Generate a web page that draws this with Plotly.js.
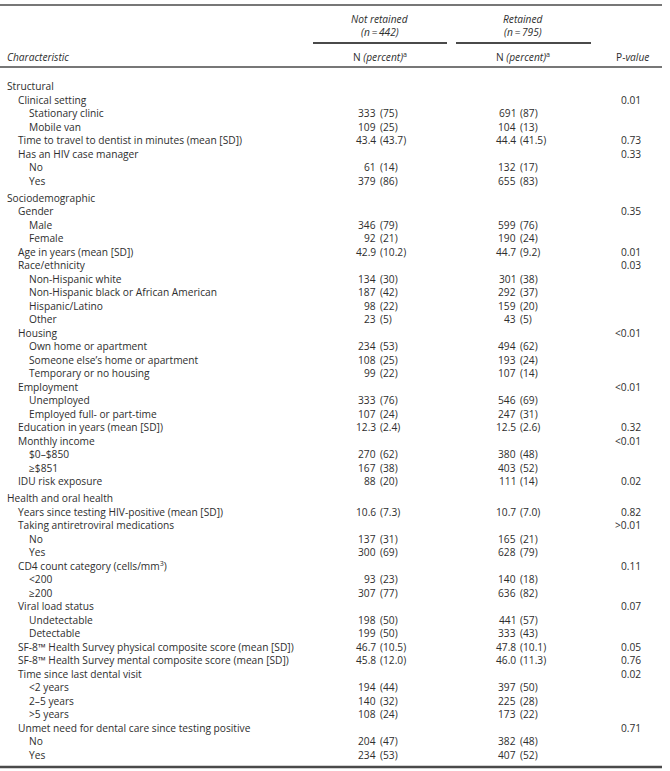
<!DOCTYPE html>
<html>
<head>
<meta charset="utf-8">
<script src="https://cdn.plot.ly/plotly-3.0.1.min.js"></script>
<style>html,body{margin:0;padding:0;background:#fff;}#chart{width:670px;height:771px;}</style>
</head>
<body>
<div id="chart"></div>
<script>
// ---- Table data ----
const labels = [
  "Structural","Clinical setting","Stationary clinic","Mobile van",
  "Time to travel to dentist in minutes (mean [SD])","Has an HIV case manager","No","Yes",
  "Sociodemographic","Gender","Male","Female","Age in years (mean [SD])","Race/ethnicity",
  "Non-Hispanic white","Non-Hispanic black or African American","Hispanic/Latino","Other",
  "Housing","Own home or apartment","Someone else’s home or apartment","Temporary or no housing",
  "Employment","Unemployed","Employed full- or part-time","Education in years (mean [SD])",
  "Monthly income","$0–$850","≥$851","IDU risk exposure",
  "Health and oral health","Years since testing HIV-positive (mean [SD])","Taking antiretroviral medications",
  "No","Yes","CD4 count category (cells/mm<sup>3</sup>)","&lt;200","≥200","Viral load status",
  "Undetectable","Detectable","SF-8™ Health Survey physical composite score (mean [SD])",
  "SF-8™ Health Survey mental composite score (mean [SD])","Time since last dental visit",
  "&lt;2 years","2–5 years","&gt;5 years","Unmet need for dental care since testing positive","No","Yes"
];
const levels = [0,1,2,2,1,1,2,2, 0,1,2,2,1,1,2,2,2,2,1,2,2,2,1,2,2,1,1,2,2,1, 0,1,1,2,2,1,2,2,1,2,2,1,1,1,2,2,2,1,2,2];
const notRetainedN = ["","","333","109","43.4","","61","379", "","","346","92","42.9","","134","187","98","23","","234","108","99","","333","107","12.3","","270","167","88", "","10.6","","137","300","","93","307","","198","199","46.7","45.8","","194","140","108","","204","234"];
const notRetainedPct = ["","","(75)","(25)","(43.7)","","(14)","(86)", "","","(79)","(21)","(10.2)","","(30)","(42)","(22)","(5)","","(53)","(25)","(22)","","(76)","(24)","(2.4)","","(62)","(38)","(20)", "","(7.3)","","(31)","(69)","","(23)","(77)","","(50)","(50)","(10.5)","(12.0)","","(44)","(32)","(24)","","(47)","(53)"];
const retainedN = ["","","691","104","44.4","","132","655", "","","599","190","44.7","","301","292","159","43","","494","193","107","","546","247","12.5","","380","403","111", "","10.7","","165","628","","140","636","","441","333","47.8","46.0","","397","225","173","","382","407"];
const retainedPct = ["","","(87)","(13)","(41.5)","","(17)","(83)", "","","(76)","(24)","(9.2)","","(38)","(37)","(20)","(5)","","(62)","(24)","(14)","","(69)","(31)","(2.6)","","(48)","(52)","(14)", "","(7.0)","","(21)","(79)","","(18)","(82)","","(57)","(43)","(10.1)","(11.3)","","(50)","(28)","(22)","","(48)","(52)"];
const pValues = ["","0.01","","","0.73","0.33","","", "","0.35","","","0.01","0.03","","","","","&lt;0.01","","","","&lt;0.01","","","0.32","&lt;0.01","","","0.02", "","0.82","&gt;0.01","","","0.11","","","0.07","","","0.05","0.76","0.02","","","","0.71","",""];
const groupHeaders = ["<i>Not retained</i>","<i>Retained</i>"];
const groupN = ["<i>(n\u2009=\u2009442)</i>","<i>(n\u2009=\u2009795)</i>"];
const colHeaders = ["<i>Characteristic</i>","N <i>(percent)</i><sup>a</sup>","N <i>(percent)</i><sup>a</sup>","P-<i>value</i>"];

// ---- Layout helpers ----
const FONT = "Open Sans, Noto Sans, sans-serif";
const TXT = "#2e2e2e";
const FS = 10.2;
const rowY = [];
let sec = -1;
for (let i = 0; i < labels.length; i++) {
  if (levels[i] === 0) sec++;
  rowY.push(86 + 13.5 * i + 3.5 * sec);
}
const indentX = [7, 18, 29];
const col1Paren = 380, col2Paren = 520, pRight = 641;

const ann = [];
function add(x, y, text, xanchor, extra) {
  ann.push(Object.assign({
    x: x, y: y, xref: "x", yref: "y", text: text, showarrow: false,
    xanchor: xanchor, yanchor: "middle", borderpad: 0, borderwidth: 0,
    font: {family: FONT, size: FS, color: TXT}
  }, extra || {}));
}

labels.forEach((t, i) => {
  const y = rowY[i];
  add(indentX[levels[i]], y, t, "left");
  if (notRetainedN[i]) {
    add(col1Paren - 3.8, y, notRetainedN[i], "right");
    add(col1Paren, y, notRetainedPct[i], "left");
  }
  if (retainedN[i]) {
    add(col2Paren - 3.8, y, retainedN[i], "right");
    add(col2Paren, y, retainedPct[i], "left");
  }
  if (pValues[i]) add(pRight, y, pValues[i], "right");
});

// headers
const groupCenters = [380, 523];
groupHeaders.forEach((t, k) => {
  add(groupCenters[k], 19, t, "center");
  add(groupCenters[k], 32, groupN[k], "center");
});
add(7, 57, colHeaders[0], "left");
add(groupCenters[0], 56, colHeaders[1], "center");
add(groupCenters[1], 56, colHeaders[2], "center");
add(632, 57, colHeaders[3], "center");

const LINE = "#4a4a4a";
const shapes = [
  {type: "line", xref: "x", yref: "y", x0: 0, x1: 662, y0: 5, y1: 5, line: {color: LINE, width: 1.3}},
  {type: "line", xref: "x", yref: "y", x0: 313, x1: 447, y0: 43, y1: 43, line: {color: LINE, width: 1.8}},
  {type: "line", xref: "x", yref: "y", x0: 456, x1: 591, y0: 43, y1: 43, line: {color: LINE, width: 1.8}},
  {type: "line", xref: "x", yref: "y", x0: 0, x1: 662, y0: 67, y1: 67, line: {color: LINE, width: 1.3}},
  {type: "line", xref: "x", yref: "y", x0: 0, x1: 662, y0: 767, y1: 767, line: {color: LINE, width: 2.5}}
];

const layout = {
  width: 670, height: 771,
  margin: {l: 0, r: 0, t: 0, b: 0},
  paper_bgcolor: "#fff", plot_bgcolor: "#fff",
  xaxis: {range: [0, 670], visible: false, fixedrange: true},
  yaxis: {range: [771, 0], visible: false, fixedrange: true},
  showlegend: false,
  annotations: ann,
  shapes: shapes
};
Plotly.newPlot("chart", [{x: [], y: [], type: "scatter", mode: "markers"}], layout, {staticPlot: true, displayModeBar: false});
</script>
</body>
</html>
